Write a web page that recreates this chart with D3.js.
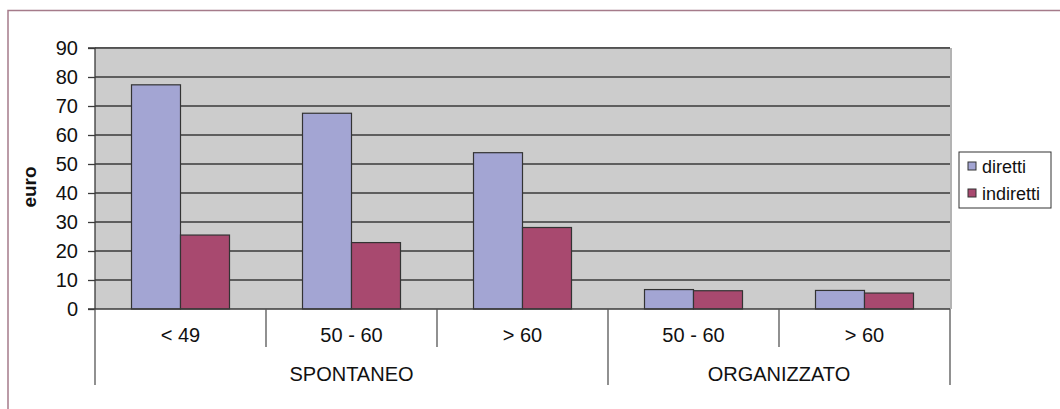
<!DOCTYPE html>
<html><head><meta charset="utf-8">
<script src="https://cdn.jsdelivr.net/npm/d3@7"></script>
<style>body{margin:0;background:#fff;}svg{display:block;font-family:"Liberation Sans",Arial,sans-serif;}</style>
</head><body>
<svg id="c" width="1060" height="409"></svg>
<script>
const categories = ["< 49", "50 - 60", "> 60", "50 - 60", "> 60"];
const groups = [{name:"SPONTANEO", count:3}, {name:"ORGANIZZATO", count:2}];
const seriesNames = ["diretti", "indiretti"];
const diretti = [77.3, 67.5, 53.9, 6.7, 6.4];
const indiretti = [25.5, 22.9, 28.1, 6.3, 5.5];
const yTicks = [0,10,20,30,40,50,60,70,80,90];
const colors = ["#a3a5d3", "#a8496f"];

const svg = d3.select("#c");
const L = 95, R = 950, T = 48, B = 309;

// outer frame
svg.append("path").attr("d", "M8,409 V10.5 H1060").attr("fill","none").attr("stroke","#a57b8a").attr("stroke-width",1.5);

const x = d3.scaleBand().domain(d3.range(categories.length)).range([L, R]).paddingInner(0).paddingOuter(0);
const y = d3.scaleLinear().domain([0, 90]).range([B, T]);
const xs = d3.scaleBand().domain(seriesNames).range([0, x.bandwidth()]).paddingInner(0).paddingOuter(0.745);

// plot background
svg.append("rect").attr("x", L).attr("y", T).attr("width", R-L).attr("height", B-T).attr("fill", "#cccccc");
svg.append("line").attr("x1", R+1).attr("x2", R+1).attr("y1", T).attr("y2", B).attr("stroke","#9a9a9a").attr("stroke-width",1.5);
svg.append("line").attr("x1", L).attr("x2", R).attr("y1", T-0.5).attr("y2", T-0.5).attr("stroke","#9a9a9a").attr("stroke-width",1);

// gridlines
svg.append("g").selectAll("line").data(yTicks.filter(d=>d>0)).join("line")
  .attr("x1", L).attr("x2", R).attr("y1", d=>y(d)).attr("y2", d=>y(d))
  .attr("stroke", "#3a3a3a").attr("stroke-width", 1.3);

// y axis
const yAxis = d3.axisLeft(y).tickValues(yTicks).tickSize(7).tickPadding(10).tickFormat(d3.format("d"));
const ga = svg.append("g").attr("transform", `translate(${L},0)`).call(yAxis);
ga.selectAll("text").attr("font-size", 20).attr("fill","#111").attr("font-family","Liberation Sans, Arial, sans-serif");
ga.selectAll("line").attr("stroke","#3a3a3a").attr("stroke-width",1.3);
ga.select(".domain").attr("stroke","#3a3a3a").attr("stroke-width",1.3).attr("d", `M-7,${T}H0V${B}H-7`);

// bars
const data = categories.map((c,i)=>({i, vals:[diretti[i], indiretti[i]]}));
const gb = svg.append("g");
data.forEach(d=>{
  seriesNames.forEach((s,j)=>{
    gb.append("rect")
      .attr("x", x(d.i) + xs(s)).attr("width", xs.bandwidth())
      .attr("y", y(d.vals[j])).attr("height", y(0)-y(d.vals[j]))
      .attr("fill", colors[j]).attr("stroke", "#333").attr("stroke-width", 1.2);
  });
});

// x axis line
svg.append("line").attr("x1", L).attr("x2", R).attr("y1", B).attr("y2", B).attr("stroke","#3a3a3a").attr("stroke-width",1.5);

// category separators
const bounds = d3.range(categories.length+1).map(i => i<categories.length ? x(i) : R);
let groupEdges = [0]; groups.reduce((a,g)=>{groupEdges.push(a+g.count); return a+g.count;},0);
svg.append("g").selectAll("line").data(d3.range(categories.length+1)).join("line")
  .attr("x1", i=>bounds[i]).attr("x2", i=>bounds[i])
  .attr("y1", B).attr("y2", i=> groupEdges.includes(i) ? 385 : 347)
  .attr("stroke","#555").attr("stroke-width",1.3);

// category labels
svg.append("g").selectAll("text").data(categories).join("text")
  .attr("x", (d,i)=>x(i)+x.bandwidth()/2).attr("y", 342)
  .attr("text-anchor","middle").attr("font-size",20).attr("fill","#111").text(d=>d);

// group labels
svg.append("g").selectAll("text").data(groups).join("text")
  .attr("x", (g,i)=> (bounds[groupEdges[i]] + bounds[groupEdges[i+1]])/2).attr("y", 381)
  .attr("text-anchor","middle").attr("font-size",20).attr("fill","#111").text(g=>g.name);

// y label
svg.append("text").attr("transform","translate(36,187) rotate(-90)")
  .attr("text-anchor","middle").attr("font-size",19).attr("font-weight","bold").attr("fill","#111").text("euro");

// legend
const lg = svg.append("g");
lg.append("rect").attr("x", 959).attr("y", 152).attr("width", 92).attr("height", 56)
  .attr("fill","#fff").attr("stroke","#333").attr("stroke-width",1);
seriesNames.forEach((s,j)=>{
  const yy = 167 + j*27;
  lg.append("rect").attr("x", 968).attr("y", yy-5).attr("width", 8).attr("height", 8)
    .attr("fill", colors[j]).attr("stroke","#333").attr("stroke-width",1);
  lg.append("text").attr("x", 982).attr("y", yy+6).attr("font-size",18).attr("fill","#111").text(s);
});
</script>
</body></html>
